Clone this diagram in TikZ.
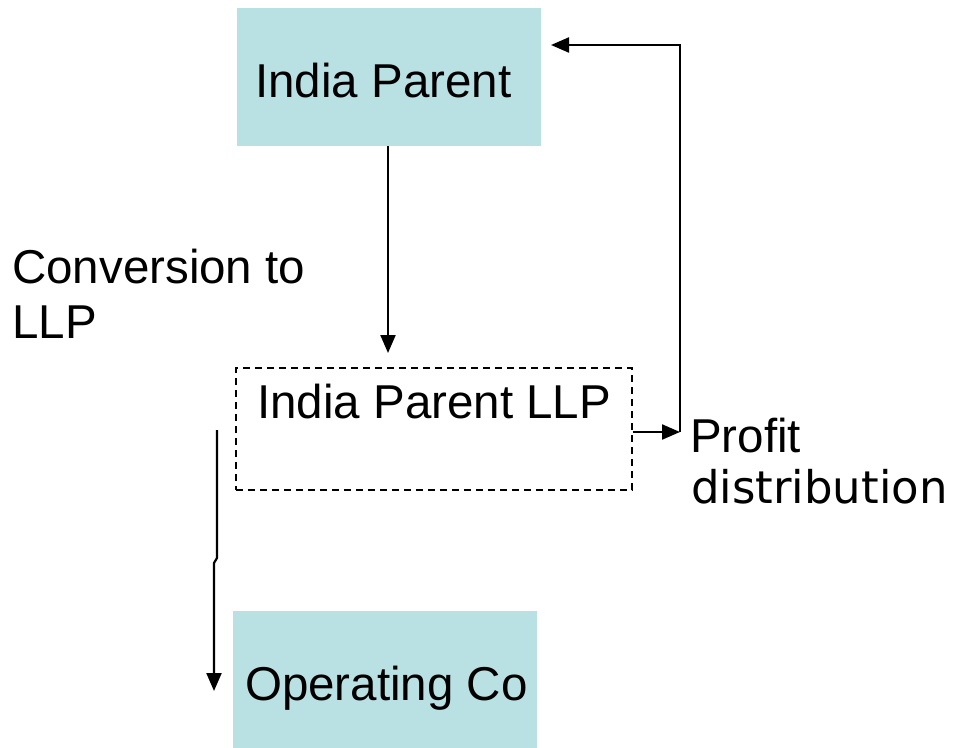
\documentclass[tikz,border=0pt]{standalone}
\usepackage{fontspec}
\setmainfont{Liberation Sans}
\newfontfamily\comicfont{DejaVu Sans}
\usetikzlibrary{arrows.meta}
\definecolor{boxblue}{HTML}{B9E0E3}
\tikzset{
  entity/.style={fill=boxblue, draw=none, inner sep=0pt, anchor=north west},
  llpbox/.style={draw=black, line width=1.6pt, dash pattern=on 7pt off 5pt, inner sep=0pt, anchor=north west},
  label/.style={inner sep=0pt, anchor=base west, font=\fontsize{47.5}{57}\selectfont},
  conn/.style={line width=2.2pt, -{Triangle[length=18pt,width=15pt]}},
}
\begin{document}
\begin{tikzpicture}[x=1pt,y=-1pt]
\useasboundingbox (0,0) rectangle (955,747);
% boxes
\node[entity, minimum width=304pt, minimum height=138pt] (ip) at (237,8) {};
\node[llpbox, minimum width=396pt, minimum height=122pt] (llp) at (235,367) {};
\node[entity, minimum width=304pt, minimum height=140pt] (op) at (233,611) {};
% texts
\node[label] (iptext) at (255,97) {India Parent};
\node[label] (llptext) at (257,418) {India Parent LLP};
\node[label] (optext) at (245,700) {Operating Co};
\node[label] (conv1) at (12,283) {Conversion to};
\node[label] (conv2) at (12,338) {LLP};
\node[label] (profit) at (690,452) {Profit};
\node[inner sep=0pt, anchor=base west, font=\comicfont\fontsize{45}{54}\selectfont] (distr) at (691,503) {distribution};
% coordinates
\coordinate (llpin) at (388,353);
\coordinate (pdend) at (680,432);
\coordinate (upcorner) at (680,45);
\coordinate (ipin) at (551,45);
\coordinate (lefttop) at (217,430);
\coordinate (leftjog1) at (217,558);
\coordinate (leftjog2) at (214,563);
\coordinate (leftend) at (214,691);
% connectors
\draw[conn] (ip.south -| llpin) -- (llpin);
\draw[conn] (llp.east |- pdend) -- (pdend);
\draw[conn] (pdend) -- (upcorner) -- (ipin);
\draw[conn] (lefttop) -- (leftjog1) -- (leftjog2) -- (leftend);
\end{tikzpicture}
\end{document}
